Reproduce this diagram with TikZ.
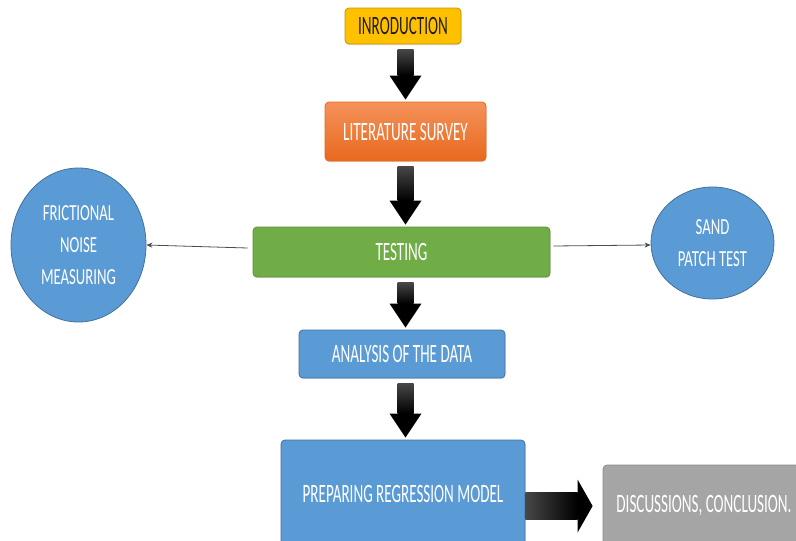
\documentclass[tikz,border=0pt]{standalone}
\usepackage{fontspec}
\usetikzlibrary{calc,shadows,shapes.geometric,arrows.meta}
\newfontfamily\boxfont{Carlito}[FakeStretch=0.57]
\newfontfamily\circfont{Carlito}[FakeStretch=0.64]
\definecolor{iyellow}{HTML}{FFC000}
\definecolor{yedge}{HTML}{C49500}
\definecolor{orangetop}{HTML}{F4925A}
\definecolor{orangebot}{HTML}{E8691E}
\definecolor{igreen}{HTML}{70AD47}
\definecolor{gedge}{HTML}{5A9038}
\definecolor{iblue}{HTML}{5B9BD5}
\definecolor{bedge}{HTML}{41719C}
\definecolor{igray}{HTML}{A5A5A5}
\definecolor{grayedge}{HTML}{8C8C8C}
\newcommand\fatdown[2]{%
  \shade[fatshaft] ($(#1.south -| axis)+(-8,5)$) rectangle ($(#2.north -| axis)+(8,-26)$);
  \fill[black] ($(#2.north -| axis)+(-16,-26)$) -- ($(#2.north -| axis)+(16,-26)$) -- ($(#2.north -| axis)+(0,-2)$) -- cycle;}
\begin{document}
\begin{tikzpicture}[x=1pt,y=-1pt,
  box/.style={draw, rounded corners=4pt, align=center, text=white, inner sep=0pt, line width=0.8pt,
    font=\boxfont\fontsize{26.5}{30}\selectfont,
    drop shadow={shadow xshift=0.6pt,shadow yshift=-1.2pt,opacity=0.25}},
  circ/.style={ellipse, draw=bedge, fill=iblue, text=white, align=center, inner sep=0pt, line width=0.8pt,
    font=\circfont\fontsize{23}{32}\selectfont},
  thinarrow/.style={draw=black!70, line width=0.8pt, -{Stealth[length=6pt,width=5pt]}},
  fatshaft/.style={top color=black!72, bottom color=black}
]
\useasboundingbox (0,0) rectangle (796,541);
\clip (0,0) rectangle (796,541);
\fill[white] (0,0) rectangle (796,541);
\coordinate (axis) at (405.5,0);

\node[box, fill=iyellow, draw=yedge, text=black!88, minimum width=116pt, minimum height=36pt] (intro) at (403,26) {INRODUCTION};
\node[box, top color=orangetop, bottom color=orangebot, draw=orangebot, minimum width=161pt, minimum height=59pt] (lit) at (405.5,131.5) {LITERATURE SURVEY};
\node[box, fill=igreen, draw=gedge, minimum width=297pt, minimum height=50pt] (test) at (401.5,252) {TESTING};
\node[box, fill=iblue, draw=bedge, minimum width=206pt, minimum height=48pt] (anal) at (402,354) {ANALYSIS OF THE DATA};
\node[box, fill=iblue, draw=bedge, minimum width=244pt, minimum height=108pt] (prep) at (403,494) {PREPARING REGRESSION MODEL};
\node[box, fill=igray, draw=grayedge, minimum width=202pt, minimum height=82pt] (disc) at (704,506) {DISCUSSIONS, CONCLUSION.};

\node[circ, minimum width=135pt, minimum height=154pt] (fric) at (78.5,245) {FRICTIONAL\\NOISE\\MEASURING};
\node[circ, minimum width=123pt, minimum height=112pt] (sand) at (712.5,243) {SAND\\PATCH TEST};

\fatdown{intro}{lit}
\fatdown{lit}{test}
\fatdown{test}{anal}
\fatdown{anal}{prep}

\shade[left color=black!72, right color=black] ($(prep.east |- disc.west)+(0,-13.5)$) rectangle ($(disc.west)+(-25,13.5)$);
\fill[black] ($(disc.west)+(-25,-26.5)$) -- ($(disc.west)+(-10,0)$) -- ($(disc.west)+(-25,26.5)$) -- cycle;

\draw[thinarrow] ([xshift=-5pt,yshift=4pt]test.west) -- (fric.east);
\draw[thinarrow] ([xshift=3pt,yshift=6pt]test.east) -- ([yshift=-2pt]sand.west);
\end{tikzpicture}
\end{document}
